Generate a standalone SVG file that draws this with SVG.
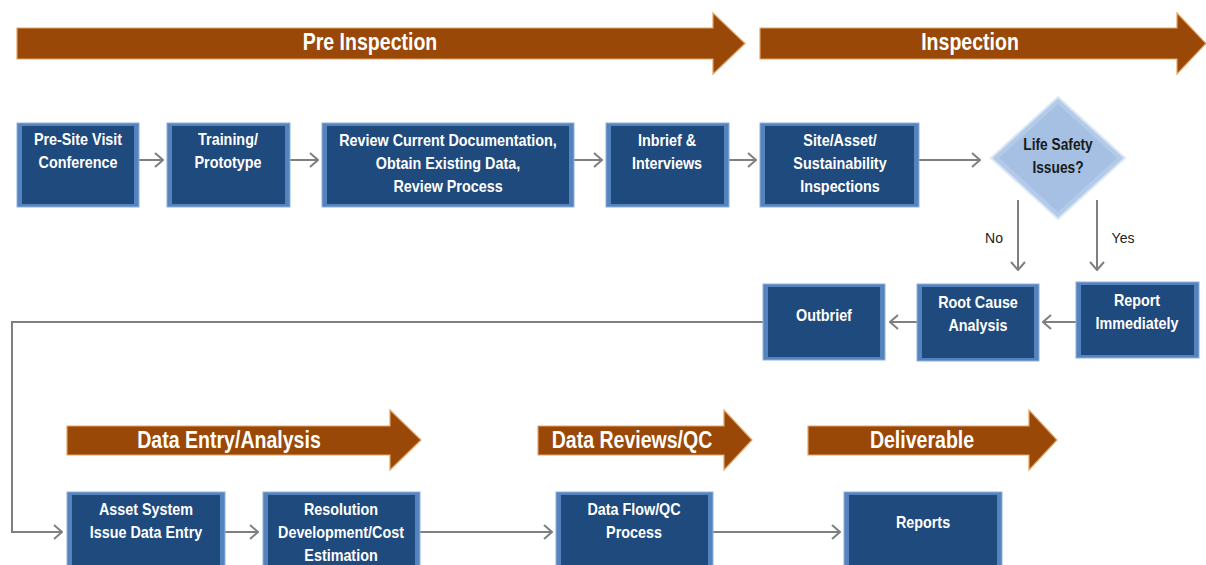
<svg xmlns="http://www.w3.org/2000/svg" width="1206" height="565" viewBox="0 0 1206 565">
<style>
.bo{fill:#5583bd;stroke:#8fb0da;stroke-width:1}
.bi{fill:#1f4a7e}
.bt{font-family:"Liberation Sans",Arial,sans-serif;font-weight:bold;font-size:16.5px;fill:#ffffff;text-anchor:middle}
.ban{fill:#994807;stroke:#e4a467;stroke-width:1.2}
.bant{font-family:"Liberation Sans",Arial,sans-serif;font-weight:bold;font-size:23px;fill:#ffffff;text-anchor:middle}
.con{fill:none;stroke:#7f7f7f;stroke-width:2}
.lbl{font-family:"Liberation Sans",Arial,sans-serif;font-size:14px;fill:#222;text-anchor:middle}
.dt{font-family:"Liberation Sans",Arial,sans-serif;font-weight:bold;font-size:16px;fill:#1a1a1a;text-anchor:middle}
</style>
<defs>
<marker id="ah" viewBox="0 0 10 16" refX="9" refY="8" markerWidth="10" markerHeight="16" markerUnits="userSpaceOnUse" orient="auto">
<path d="M1,1 L9,8 L1,15" fill="none" stroke="#7f7f7f" stroke-width="2"/>
</marker>
</defs>
<rect width="1206" height="565" fill="#ffffff"/>

<g id="banners">
<g id="ban-pre"><path class="ban" d="M17,28 H713 V13 L745,43.5 L713,74 V59 H17 Z"/><g transform="translate(370 0) scale(0.85 1)"><text class="bant" x="0" y="50">Pre Inspection</text></g></g>
<g id="ban-insp"><path class="ban" d="M760,28 H1177 V13 L1206,43.5 L1177,74 V59 H760 Z"/><g transform="translate(970 0) scale(0.85 1)"><text class="bant" x="0" y="50">Inspection</text></g></g>
<g id="ban-data"><path class="ban" d="M67,426 H390 V410 L421,440 L390,470 V455 H67 Z"/><g transform="translate(229 0) scale(0.85 1)"><text class="bant" x="0" y="448">Data Entry/Analysis</text></g></g>
<g id="ban-qc"><path class="ban" d="M538,426 H724 V410 L752,440 L724,470 V455 H538 Z"/><g transform="translate(632 0) scale(0.85 1)"><text class="bant" x="0" y="448">Data Reviews/QC</text></g></g>
<g id="ban-del"><path class="ban" d="M808,426 H1029 V410 L1057,440 L1029,470 V455 H808 Z"/><g transform="translate(922 0) scale(0.85 1)"><text class="bant" x="0" y="448">Deliverable</text></g></g>
</g>

<g id="connectors">
<line class="con" x1="139" y1="160" x2="163" y2="160" marker-end="url(#ah)"/>
<line class="con" x1="290" y1="160" x2="318" y2="160" marker-end="url(#ah)"/>
<line class="con" x1="574" y1="160" x2="602" y2="160" marker-end="url(#ah)"/>
<line class="con" x1="729" y1="160" x2="756" y2="160" marker-end="url(#ah)"/>
<line class="con" x1="919" y1="160" x2="980" y2="160" marker-end="url(#ah)"/>
<line class="con" x1="1018" y1="200" x2="1018" y2="270" marker-end="url(#ah)"/>
<line class="con" x1="1097" y1="200" x2="1097" y2="270" marker-end="url(#ah)"/>
<line class="con" x1="1076" y1="322" x2="1043" y2="322" marker-end="url(#ah)"/>
<line class="con" x1="917" y1="322" x2="890" y2="322" marker-end="url(#ah)"/>
<polyline class="con" points="763,322 12,322 12,532 62,532" marker-end="url(#ah)"/>
<line class="con" x1="225" y1="532" x2="258" y2="532" marker-end="url(#ah)"/>
<line class="con" x1="420" y1="532" x2="552" y2="532" marker-end="url(#ah)"/>
<line class="con" x1="713" y1="532" x2="840" y2="532" marker-end="url(#ah)"/>
<text class="lbl" x="994" y="243">No</text>
<text class="lbl" x="1123" y="243">Yes</text>
</g>

<g id="n-presite"><rect class="bo" x="17" y="123" width="122" height="84"/><rect class="bi" x="22" y="126" width="112" height="78"/>
<g transform="translate(78 0) scale(0.87 1)"><text class="bt" x="0" y="145">Pre-Site Visit</text><text class="bt" x="0" y="168">Conference</text></g></g>
<g id="n-training"><rect class="bo" x="167" y="123" width="123" height="84"/><rect class="bi" x="172" y="126" width="113" height="78"/>
<g transform="translate(228 0) scale(0.87 1)"><text class="bt" x="0" y="145">Training/</text><text class="bt" x="0" y="168">Prototype</text></g></g>
<g id="n-review"><rect class="bo" x="322" y="123" width="252" height="84"/><rect class="bi" x="327" y="126" width="242" height="78"/>
<g transform="translate(448 0) scale(0.87 1)"><text class="bt" x="0" y="146">Review Current Documentation,</text><text class="bt" x="0" y="169">Obtain Existing Data,</text><text class="bt" x="0" y="192">Review Process</text></g></g>
<g id="n-inbrief"><rect class="bo" x="606" y="123" width="123" height="84"/><rect class="bi" x="611" y="126" width="113" height="78"/>
<g transform="translate(667 0) scale(0.87 1)"><text class="bt" x="0" y="146">Inbrief &amp;</text><text class="bt" x="0" y="169">Interviews</text></g></g>
<g id="n-site"><rect class="bo" x="760" y="123" width="159" height="84"/><rect class="bi" x="765" y="126" width="149" height="78"/>
<g transform="translate(840 0) scale(0.87 1)"><text class="bt" x="0" y="146">Site/Asset/</text><text class="bt" x="0" y="169">Sustainability</text><text class="bt" x="0" y="192">Inspections</text></g></g>
<g id="n-life"><polygon points="1058,97 1125,158 1058,219 991,158" fill="#b3cbe9" stroke="#dbe7f5" stroke-width="2"/><polygon points="1058,104 1117,158 1058,212 999,158" fill="#a5c0e3"/>
<g transform="translate(1058 0) scale(0.86 1)"><text class="dt" x="0" y="150">Life Safety</text><text class="dt" x="0" y="173">Issues?</text></g></g>
<g id="n-outbrief"><rect class="bo" x="763" y="284" width="122" height="76"/><rect class="bi" x="768" y="287" width="112" height="70"/>
<g transform="translate(824 0) scale(0.87 1)"><text class="bt" x="0" y="321">Outbrief</text></g></g>
<g id="n-root"><rect class="bo" x="917" y="284" width="122" height="77"/><rect class="bi" x="922" y="287" width="112" height="71"/>
<g transform="translate(978 0) scale(0.87 1)"><text class="bt" x="0" y="308">Root Cause</text><text class="bt" x="0" y="331">Analysis</text></g></g>
<g id="n-report"><rect class="bo" x="1076" y="282" width="123" height="76"/><rect class="bi" x="1081" y="285" width="113" height="70"/>
<g transform="translate(1137 0) scale(0.87 1)"><text class="bt" x="0" y="306">Report</text><text class="bt" x="0" y="329">Immediately</text></g></g>
<g id="n-asset"><rect class="bo" x="67" y="492" width="158" height="80"/><rect class="bi" x="72" y="495" width="148" height="80"/>
<g transform="translate(146 0) scale(0.87 1)"><text class="bt" x="0" y="515">Asset System</text><text class="bt" x="0" y="538">Issue Data Entry</text></g></g>
<g id="n-resolution"><rect class="bo" x="263" y="492" width="157" height="80"/><rect class="bi" x="268" y="495" width="147" height="80"/>
<g transform="translate(341 0) scale(0.87 1)"><text class="bt" x="0" y="515">Resolution</text><text class="bt" x="0" y="538">Development/Cost</text><text class="bt" x="0" y="561">Estimation</text></g></g>
<g id="n-dataflow"><rect class="bo" x="556" y="492" width="157" height="80"/><rect class="bi" x="561" y="495" width="147" height="80"/>
<g transform="translate(634 0) scale(0.87 1)"><text class="bt" x="0" y="515">Data Flow/QC</text><text class="bt" x="0" y="538">Process</text></g></g>
<g id="n-reports"><rect class="bo" x="844" y="492" width="158" height="80"/><rect class="bi" x="849" y="495" width="148" height="80"/>
<g transform="translate(923 0) scale(0.87 1)"><text class="bt" x="0" y="528">Reports</text></g></g>
</svg>
